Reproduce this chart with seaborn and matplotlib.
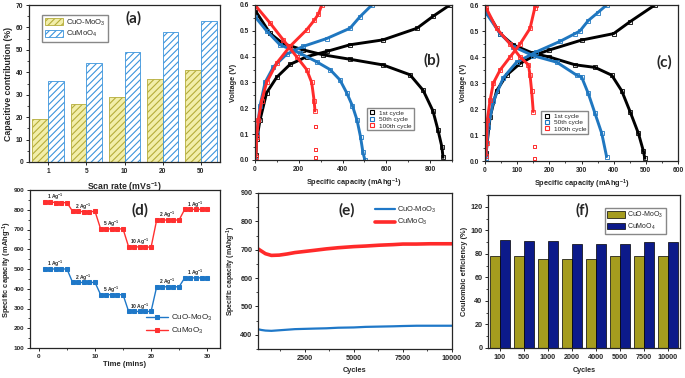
import numpy as np
import pandas as pd
import matplotlib
matplotlib.use("Agg")
import matplotlib.pyplot as plt
import seaborn as sns
from matplotlib.ticker import AutoMinorLocator, MultipleLocator
from matplotlib.lines import Line2D

# (a) capacitive contribution vs scan rate
scan_rates = ["1", "5", "10", "20", "50"]
capc_cuo_moo3 = [19, 26, 29, 37, 41]
capc_cumoo4 = [36, 44, 49, 58, 63]

# (b) charge/discharge curves, capacity (mAh/g) and voltage (V)
b1_chg_cap = [4, 8, 23, 53, 99, 160, 236, 327, 434, 585, 740, 813, 890]
b1_chg_v = [0.02, 0.08, 0.155, 0.26, 0.32, 0.37, 0.40, 0.42, 0.446, 0.465, 0.51, 0.556, 0.60]
b1_dis_cap = [0, 69, 129, 221, 312, 434, 585, 708, 768, 813, 836, 854, 859]
b1_dis_v = [0.58, 0.49, 0.45, 0.426, 0.407, 0.39, 0.368, 0.33, 0.27, 0.19, 0.116, 0.05, 0.01]
b50_chg_cap = [0, 8, 23, 46, 84, 145, 221, 327, 434, 480, 534]
b50_chg_v = [0.0, 0.10, 0.21, 0.30, 0.36, 0.41, 0.44, 0.47, 0.51, 0.555, 0.60]
b50_dis_cap = [0, 53, 114, 206, 282, 343, 388, 419, 445, 466, 482, 493, 502]
b50_dis_v = [0.555, 0.50, 0.446, 0.413, 0.38, 0.35, 0.31, 0.26, 0.21, 0.155, 0.09, 0.03, 0.0]
b100_chg_cap = [4, 8, 15, 31, 53, 99, 160, 236, 270, 290, 305]
b100_chg_v = [0.01, 0.09, 0.155, 0.23, 0.30, 0.375, 0.44, 0.504, 0.54, 0.565, 0.60]
b100_dis_cap = [0, 69, 129, 190, 236, 259, 270, 274]
b100_dis_v = [0.60, 0.53, 0.465, 0.40, 0.35, 0.30, 0.23, 0.19]
b100_tail_cap = [277, 278, 278]
b100_tail_v = [0.13, 0.04, 0.01]

# (c) charge/discharge curves, CuMoO4
c1_chg_cap = [3, 16, 36, 67, 109, 160, 200, 300, 400, 450, 528]
c1_chg_v = [0.03, 0.17, 0.27, 0.33, 0.375, 0.41, 0.427, 0.465, 0.49, 0.535, 0.60]
c1_dis_cap = [3, 47, 88, 150, 200, 280, 342, 394, 425, 451, 477, 492, 497]
c1_dis_v = [0.58, 0.49, 0.446, 0.414, 0.40, 0.37, 0.36, 0.33, 0.27, 0.19, 0.106, 0.04, 0.01]
c50_chg_cap = [3, 10, 26, 57, 98, 160, 233, 280, 295, 321, 350, 378]
c50_chg_v = [0.01, 0.13, 0.23, 0.32, 0.38, 0.42, 0.46, 0.49, 0.50, 0.54, 0.57, 0.60]
c50_dis_cap = [3, 47, 88, 150, 223, 285, 300, 321, 342, 363, 378]
c50_dis_v = [0.57, 0.49, 0.44, 0.405, 0.38, 0.33, 0.324, 0.26, 0.183, 0.106, 0.017]
c100_chg_cap = [3, 5, 7, 16, 26, 47, 78, 109, 140, 155, 158]
c100_chg_v = [0.02, 0.07, 0.158, 0.235, 0.30, 0.35, 0.40, 0.45, 0.51, 0.59, 0.60]
c100_dis_cap = [3, 36, 78, 109, 135, 140, 145, 150]
c100_dis_v = [0.59, 0.51, 0.45, 0.40, 0.37, 0.33, 0.27, 0.19]
c100_tail_cap = [153, 155]
c100_tail_v = [0.055, 0.01]

# (d) rate capability
time_min = list(range(1, 31))
rate_cuo_moo3 = [500, 500, 500, 500, 500, 432, 432, 432, 432, 432,
                 370, 370, 370, 370, 370, 285, 285, 285, 285, 285,
                 410, 410, 410, 410, 410, 455, 455, 455, 455, 455]
rate_cumoo3 = [840, 840, 836, 836, 836, 792, 792, 790, 790, 792,
               703, 703, 703, 703, 703, 612, 612, 612, 612, 610,
               748, 748, 748, 748, 748, 802, 802, 802, 802, 802]
rate_labels = ["1", "2", "5", "10", "2", "1"]

# (e) cycling stability
cyc_n = [100, 300, 500, 800, 1200, 1600, 2000, 2500, 3000, 3600, 4200, 5000,
         5600, 6300, 7000, 7500, 8200, 8900, 9500, 10000]
cyc_cuo_moo3 = [420, 417, 415, 414, 416, 418, 420, 421, 422, 423, 425, 426,
                428, 429, 430, 431, 432, 432, 432, 432]
cyc_cumoo3 = [704, 695, 686, 680, 681, 685, 690, 694, 698, 703, 707, 711,
              713, 716, 718, 720, 720, 721, 721, 721]

# (f) coulombic efficiency
ce_cycles = ["100", "500", "1000", "2000", "4000", "5000", "7500", "10000"]
ce_cuo_moo3 = [78, 78, 76, 76, 76, 78.5, 78.5, 78.5]
ce_cumoo4 = [92, 91, 91, 88, 88.5, 88.5, 90, 90]

sns.set_style("ticks")
plt.rcParams["font.family"] = ["Liberation Sans", "DejaVu Sans"]
plt.rcParams["font.weight"] = "bold"
plt.rcParams["axes.labelweight"] = "bold"
plt.rcParams["mathtext.default"] = "regular"
plt.rcParams["hatch.linewidth"] = 0.8
plt.rcParams["axes.linewidth"] = 0.9

fig = plt.figure(figsize=(6.85, 3.78), dpi=100)


def add_ax(x0, y0, x1, y1):
    return fig.add_axes([x0 / 685, 1 - y1 / 378, (x1 - x0) / 685, (y1 - y0) / 378])


def style(ax, size=5):
    ax.tick_params(which="major", labelsize=size, length=2.5, width=0.7, direction="out", pad=1.5)
    ax.tick_params(which="minor", length=1.5, width=0.6, direction="out")
    for lab in ax.get_xticklabels() + ax.get_yticklabels():
        lab.set_fontweight("bold")
    for s in ax.spines.values():
        s.set_linewidth(0.9)


def panel(ax, txt, x, y):
    ax.text(x, y, txt, transform=ax.transAxes, ha="center", va="center",
            fontsize=11, fontweight="bold", family=["Lato", "DejaVu Sans"])


# ---- (a)
ax = add_ax(29, 5, 220, 162)
df_a = pd.DataFrame({"rate": scan_rates * 2,
                     "val": capc_cuo_moo3 + capc_cumoo4,
                     "mat": ["CuO-MoO$_3$"] * 5 + ["CuMoO$_4$"] * 5})
sns.barplot(data=df_a, x="rate", y="val", hue="mat", order=scan_rates, ax=ax,
            width=0.82, errorbar=None, legend=False, palette=["#f2eeaa", "white"])
faces = ["#f2eeaa", "white"]
edges = ["#b5ad3a", "#3a94dc"]
for cont, fc, ec in zip(ax.containers, faces, edges):
    for p in cont:
        p.set_facecolor(fc)
        p.set_edgecolor(ec)
        p.set_hatch("/////")
        p.set_linewidth(0.6)
ax.set_ylim(0, 70)
ax.yaxis.set_major_locator(MultipleLocator(10))
ax.yaxis.set_minor_locator(AutoMinorLocator(2))
ax.set_xlabel("Scan rate (mVs$^{-1}$)", fontsize=6.3, labelpad=4)
ax.set_ylabel("Capacitive contribution (%)", fontsize=6.3, labelpad=2)
ax.legend(ax.containers, ["CuO-MoO$_3$", "CuMoO$_4$"], loc="upper left",
          bbox_to_anchor=(0.05, 0.96), prop={"weight": "normal", "size": 5.5},
          fancybox=False, edgecolor="#888888", framealpha=1, handlelength=2.4,
          handleheight=1.0, borderpad=0.3, labelspacing=0.2, handletextpad=0.4)
style(ax, 4.8)
panel(ax, "(a)", 0.545, 0.915)


# ---- (b), (c)
def gcd_panel(ax, curves, tails, xmax, xstep, legend_anchor):
    for cap_v, col in curves:
        for cx, vy in cap_v:
            sns.lineplot(x=cx, y=vy, ax=ax, color=col, lw=2.1, marker="s", ms=2.2,
                         mfc="none", mec=col, mew=0.6, sort=False, estimator=None)
    for cx, vy, col in tails:
        sns.scatterplot(x=cx, y=vy, ax=ax, marker="s", s=5, facecolor="none",
                        edgecolor=col, linewidth=0.7)
    ax.set_xlim(0, xmax)
    ax.set_ylim(0, 0.6)
    ax.xaxis.set_major_locator(MultipleLocator(xstep))
    ax.xaxis.set_minor_locator(AutoMinorLocator(2))
    ax.yaxis.set_major_locator(MultipleLocator(0.1))
    ax.yaxis.set_minor_locator(AutoMinorLocator(2))
    ax.yaxis.set_major_formatter(matplotlib.ticker.FormatStrFormatter("%.1f"))
    ax.set_xlabel("Specific capacity (mAhg$^{-1}$)", fontsize=5.3, labelpad=3)
    ax.set_ylabel("Voltage (V)", fontsize=5.3, labelpad=2)
    handles = [Line2D([], [], ls="none", marker="s", ms=2.5, mfc="none", mec=c, mew=0.8)
               for c in ["black", "#1f77c0", "#ff2b2b"]]
    ax.legend(handles, ["1st cycle", "50th cycle", "100th cycle"], loc="lower left",
              bbox_to_anchor=legend_anchor, prop={"weight": "normal", "size": 4.6},
              fancybox=False, edgecolor="#888888", framealpha=1, handlelength=1.2,
              borderpad=0.3, labelspacing=0.15, handletextpad=0.5)
    style(ax, 4.8)


ax = add_ax(255, 5, 452, 160)
gcd_panel(ax,
          [([(b1_chg_cap, b1_chg_v), (b1_dis_cap, b1_dis_v)], "black"),
           ([(b50_chg_cap, b50_chg_v), (b50_dis_cap, b50_dis_v)], "#1f77c0"),
           ([(b100_chg_cap, b100_chg_v), (b100_dis_cap, b100_dis_v)], "#ff2b2b")],
          [(b100_tail_cap, b100_tail_v, "#ff2b2b")], 900, 200, (0.55, 0.17))
panel(ax, "(b)", 0.90, 0.645)

ax = add_ax(485, 5, 678, 161)
gcd_panel(ax,
          [([(c1_chg_cap, c1_chg_v), (c1_dis_cap, c1_dis_v)], "black"),
           ([(c50_chg_cap, c50_chg_v), (c50_dis_cap, c50_dis_v)], "#1f77c0"),
           ([(c100_chg_cap, c100_chg_v), (c100_dis_cap, c100_dis_v)], "#ff2b2b")],
          [(c100_tail_cap, c100_tail_v, "#ff2b2b")], 600, 100, (0.275, 0.155))
panel(ax, "(c)", 0.93, 0.635)

# ---- (d)
ax = add_ax(30, 190, 220, 348)
for vals, col, lab in [(rate_cuo_moo3, "#1f78c8", "CuO-MoO$_3$"),
                       (rate_cumoo3, "#ff3030", "CuMoO$_3$")]:
    sns.lineplot(x=time_min, y=vals, ax=ax, color=col, lw=1.0, marker="s", ms=2.8,
                 mec=col, mfc=col, label=lab, sort=False, estimator=None)
    for i, lab_r in enumerate(rate_labels):
        seg_t = time_min[i * 5:(i + 1) * 5]
        seg_v = vals[i * 5:(i + 1) * 5]
        ax.text(np.mean(seg_t), max(seg_v) + 25, lab_r + " Ag$^{-1}$", fontsize=3.6,
                ha="center", va="center")
ax.set_xlim(-1.6, 32.3)
ax.set_ylim(100, 900)
ax.xaxis.set_major_locator(MultipleLocator(10))
ax.xaxis.set_minor_locator(AutoMinorLocator(2))
ax.yaxis.set_major_locator(MultipleLocator(100))
ax.yaxis.set_minor_locator(AutoMinorLocator(2))
ax.set_xlabel("Time (mins)", fontsize=5.5, labelpad=2)
ax.set_ylabel("Specific capacity (mAhg$^{-1}$)", fontsize=5.4)
ax.yaxis.set_label_coords(-0.085, 0.5)
ax.legend(loc="lower right", bbox_to_anchor=(1.0, 0.03), frameon=False,
          prop={"weight": "normal", "size": 5.8}, handlelength=2.8,
          labelspacing=0.3, handletextpad=0.4)
style(ax, 4.6)
panel(ax, "(d)", 0.58, 0.87)

# ---- (e)
ax = add_ax(258, 193, 452, 349)
sns.lineplot(x=cyc_n, y=cyc_cuo_moo3, ax=ax, color="#1f78c8", lw=1.6, label="CuO-MoO$_3$")
sns.lineplot(x=cyc_n, y=cyc_cumoo3, ax=ax, color="#ff2a2a", lw=2.6, label="CuMoO$_3$")
ax.set_xlim(120, 10000)
ax.set_ylim(350, 900)
ax.set_xticks([2500, 5000, 7500, 10000])
ax.xaxis.set_minor_locator(AutoMinorLocator(2))
ax.yaxis.set_major_locator(MultipleLocator(100))
ax.yaxis.set_minor_locator(AutoMinorLocator(2))
ax.set_xlabel("Cycles", fontsize=5.3, labelpad=4)
ax.set_ylabel("Specific capacity (mAhg$^{-1}$)", fontsize=5.0, labelpad=2)
ax.legend(loc="upper left", bbox_to_anchor=(0.57, 0.97), frameon=False,
          prop={"weight": "normal", "size": 5.4}, handlelength=2.6,
          labelspacing=0.35, handletextpad=0.3)
style(ax, 5.2)
panel(ax, "(e)", 0.46, 0.89)

# ---- (f)
ax = add_ax(488, 195, 680, 348)
df_f = pd.DataFrame({"cyc": ce_cycles * 2,
                     "ce": ce_cuo_moo3 + ce_cumoo4,
                     "mat": ["CuO-MoO$_3$"] * 8 + ["CuMoO$_4$"] * 8})
sns.barplot(data=df_f, x="cyc", y="ce", hue="mat", order=ce_cycles, ax=ax,
            width=0.84, errorbar=None, palette=["#a59c1e", "#0c1a8a"],
            edgecolor="black", linewidth=0.5, saturation=1)
ax.set_ylim(0, 130)
ax.yaxis.set_major_locator(MultipleLocator(20))
ax.yaxis.set_minor_locator(AutoMinorLocator(2))
ax.set_xlabel("Cycles", fontsize=5.2, labelpad=5)
ax.set_ylabel("Coulombic efficiency (%)", fontsize=5.4, labelpad=2)
ax.legend(loc="upper right", bbox_to_anchor=(0.945, 0.94),
          prop={"weight": "normal", "size": 5.0}, fancybox=False,
          edgecolor="#888888", framealpha=1, handlelength=2.6, handleheight=1.1,
          borderpad=0.3, labelspacing=0.2, handletextpad=0.4)
style(ax, 5.2)
panel(ax, "(f)", 0.49, 0.90)

fig.savefig("out.png", dpi=100)
